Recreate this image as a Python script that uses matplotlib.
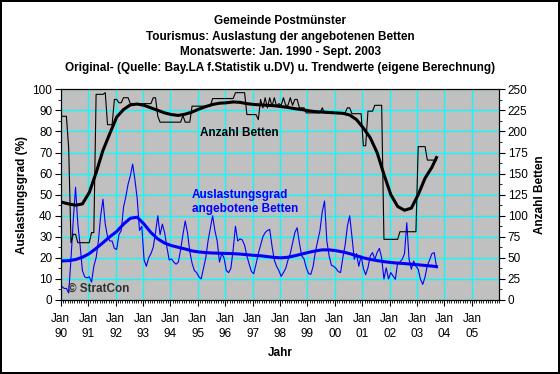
import matplotlib
matplotlib.use('Agg')
import matplotlib.pyplot as plt
import numpy as np
from matplotlib.ticker import MultipleLocator, FixedLocator

plt.rcParams['font.family'] = ['Liberation Sans', 'DejaVu Sans']

# ---------------- data ----------------
# monthly values Jan 1990 .. Sep 2003
beds = [
    218, 218, 218, 180, 68, 78, 78, 68, 68, 68, 68, 68,            # 1990
    68, 80, 80, 244, 244, 244, 244, 246, 208, 208, 208, 238,        # 1991
    238, 234, 234, 240, 240, 240, 233, 233, 233, 233, 233, 233,     # 1992
    233, 233, 233, 233, 240, 240, 218, 211, 211, 211, 211, 211,     # 1993
    211, 211, 211, 211, 211, 219, 211, 211, 211, 230, 230, 230,     # 1994
    230, 230, 230, 230, 230, 230, 239, 239, 239, 239, 239, 239,     # 1995
    239, 239, 239, 239, 246, 246, 246, 246, 246, 220, 220, 220,     # 1996
    220, 220, 214, 238, 228, 240, 228, 240, 230, 240, 230, 233,     # 1997
    231, 240, 231, 231, 240, 231, 238, 238, 228, 228, 228, 222,     # 1998
    222, 222, 222, 222, 222, 222, 228, 222, 222, 222, 222, 222,     # 1999
    222, 222, 222, 222, 222, 228, 228, 221, 221, 221, 221, 221,     # 2000
    183, 183, 224, 224, 224, 231, 231, 231, 231, 72, 72, 72,        # 2001
    72, 72, 72, 72, 81, 81, 81, 81, 81, 81, 81, 81,                 # 2002
    182, 182, 182, 182, 166, 166, 166, 166, 166,                    # 2003
]

auslastung = [
    6.5, 5.5, 5.5, 3.3, 19.5, 38, 53.5, 36, 26, 14, 11, 10.5,       # 1990
    11, 8.5, 16, 20, 28, 40, 47.8, 36, 30, 28, 28, 24.5,            # 1991
    24, 31, 33, 44, 49, 55, 59, 64.5, 57, 48, 33, 35,               # 1992
    19, 16, 20, 22, 25, 32, 40, 31, 36, 32, 25, 19,                 # 1993
    19.5, 18, 17, 18, 24, 31, 37.5, 32, 23, 17.5, 14, 13,           # 1994
    11, 10, 15, 20, 28, 34, 40, 33, 28, 18, 22, 20,                 # 1995
    14, 13, 15, 24, 35, 28, 29, 28.5, 26, 21, 17, 13.5,             # 1996
    12.5, 17, 22, 26, 30, 32, 33, 33.5, 25.6, 19, 16, 14,           # 1997
    11.2, 13, 15, 19, 22, 27, 32, 34.3, 27, 21, 19.5, 15.3,         # 1998
    12.5, 12.2, 16, 23, 28, 33, 42, 47, 28, 21, 16.5, 16,           # 1999
    15, 13.5, 13, 20, 26, 35, 40, 30, 19.3, 22, 16, 20.9,           # 2000
    15, 12, 15.3, 20.9, 22.5, 19.3, 22.5, 24.5, 20, 10, 15.3, 10,   # 2001
    13, 11.4, 9.8, 17.7, 18, 19.3, 22, 36.7, 19.3, 14.6, 18.5, 16,  # 2002
    14.6, 9.8, 7.4, 11, 16.5, 19, 22, 22.5, 16,                     # 2003
]

# trend values, read every 3 months (month index 0, 3, ..., 162, 164)
trend_month = list(range(0, 163, 3)) + [164]
beds_trend = [
    116, 114, 112.5, 114, 127.5, 151, 177.5, 197.5, 217, 226, 231.5, 232.5,
    231, 228, 225, 222, 220, 219, 220.5, 223, 226.5, 229.5, 232, 233.5,
    234, 235, 234.5, 233, 232, 231.5, 231, 230.5, 229.5, 228.5, 227, 226,
    224.5, 223.5, 223, 222.5, 222, 221.5, 219.5, 214, 204, 192.5, 175, 149,
    125, 111, 106.5, 109, 125, 144.5, 157.5, 169,
]
ausl_trend = [
    18.5, 18.7, 19.2, 20.3, 22, 24.5, 27.2, 30, 32.5, 36, 38.8, 39.3,
    36, 32, 29, 27, 25.8, 25, 24.2, 23.3, 22.8, 22.5, 22.3, 22.2,
    22.1, 22, 21.8, 21.5, 21.2, 21, 20.6, 20.2, 20, 20.3, 21, 21.8,
    22.6, 23.3, 23.8, 23.8, 23.4, 22.8, 22, 21, 20, 19.3, 18.7, 18.2,
    17.8, 17.5, 17.3, 17, 16.7, 16.4, 16.1, 15.8,
]

year_labels = ['90', '91', '92', '93', '94', '95', '96', '97', '98', '99',
               '00', '01', '02', '03', '04', '05']

titles = ['Gemeinde Postmünster',
          'Tourismus: Auslastung der angebotenen Betten',
          'Monatswerte: Jan. 1990 - Sept. 2003',
          'Original- (Quelle: Bay.LA f.Statistik u.DV) u. Trendwerte (eigene Berechnung)']

# ---------------- figure ----------------
W, H = 560, 374
FS = 8.5
fig = plt.figure(figsize=(W / 100, H / 100), dpi=100)
fig.patch.set_facecolor('white')
fig.patch.set_edgecolor('black')
fig.patch.set_linewidth(1.5)

L, R, T, B = 60.7, 499.3, 89.3, 300.0
ax = fig.add_axes([L / W, 1 - B / H, (R - L) / W, (B - T) / H])
ax.set_facecolor('#C0C0C0')
ax2 = ax.twinx()
ax2.patch.set_visible(False)

months = np.arange(len(beds)) + 0.5
tm = np.array(trend_month) + 0.5

BLUE = '#0000FF'
ax.plot(months, auslastung, color=BLUE, lw=0.8, zorder=3)
ax.plot(tm, ausl_trend, color=BLUE, lw=2.2, zorder=4)
ax2.plot(months, beds, color='black', lw=0.8, zorder=3)
ax2.plot(tm, beds_trend, color='black', lw=2.2, zorder=4)

ax.set_xlim(0, 192)
ax.set_ylim(0, 100)
ax2.set_ylim(0, 250)

ax.xaxis.set_major_locator(FixedLocator(np.arange(0, 192, 12)))
ax.set_xticklabels(['Jan\n' + y for y in year_labels], fontsize=FS, linespacing=1.4)
ax.xaxis.set_minor_locator(MultipleLocator(1))
ax.yaxis.set_major_locator(MultipleLocator(10))
ax.yaxis.set_minor_locator(MultipleLocator(5))
ax2.yaxis.set_major_locator(MultipleLocator(25))
ax2.yaxis.set_minor_locator(MultipleLocator(12.5))

ax.tick_params(axis='x', which='major', direction='out', length=4, width=0.8, pad=5, labelsize=FS)
ax.tick_params(axis='x', which='minor', direction='out', length=2, width=0.6)
ax.tick_params(axis='y', which='major', direction='out', length=4, width=0.8, pad=2, labelsize=FS)
ax.tick_params(axis='y', which='minor', direction='out', length=2, width=0.6)
ax2.tick_params(axis='y', which='major', direction='out', length=4, width=0.8, pad=2, labelsize=FS)
ax2.tick_params(axis='y', which='minor', direction='out', length=2, width=0.6)

ax.grid(True, which='major', color='#00FFFF', lw=0.9)
ax.set_axisbelow(True)
for sp in list(ax.spines.values()) + list(ax2.spines.values()):
    sp.set_linewidth(0.8)
    sp.set_color('black')

# axis labels
fig.text(22 / W, 1 - 195 / H, 'Auslastungsgrad (%)', rotation=90, ha='center', va='center',
         fontsize=FS, fontweight='bold')
fig.text(540 / W, 1 - 195 / H, 'Anzahl Betten', rotation=90, ha='center', va='center',
         fontsize=FS, fontweight='bold')
fig.text(280 / W, 1 - 353 / H, 'Jahr', ha='center', va='center', fontsize=FS, fontweight='bold')

# titles
for i, t in enumerate(titles):
    fig.text(280 / W, 1 - (21.5 + i * 15.5) / H, t, ha='center', va='center',
             fontsize=FS, fontweight='bold')

# in-plot annotations
fig.text(200 / W, 1 - 133 / H, 'Anzahl Betten', ha='left', va='center',
         fontsize=FS, fontweight='bold', color='black')
fig.text(192 / W, 1 - 202 / H, 'Auslastungsgrad\nangebotene Betten', ha='left', va='center',
         fontsize=FS, fontweight='bold', color=BLUE, linespacing=1.3)
fig.text(68 / W, 1 - 289 / H, '© StratCon', ha='left', va='center',
         fontsize=FS, fontweight='bold', color='#303030')

fig.savefig('out.png', dpi=100)
